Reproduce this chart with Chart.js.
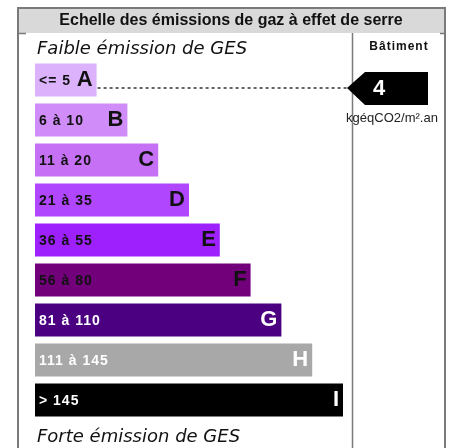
<!DOCTYPE html>
<html>
<head>
  <meta charset="utf-8">
  <title>GES</title>
  <script src="https://cdn.jsdelivr.net/npm/chart.js@4.4.0/dist/chart.umd.min.js"></script>
  <style>
    html, body { margin: 0; padding: 0; background: #fff; }
    #wrap { width: 454px; height: 448px; position: relative; }
  </style>
</head>
<body>
  <div id="wrap"><canvas id="ges"></canvas></div>
  <script>
    // classes and their ranges (kgeqCO2/m2.an)
    var classes = ["A", "B", "C", "D", "E", "F", "G", "H", "I"];
    var ranges = ["<= 5", "6 à 10", "11 à 20", "21 à 35", "36 à 55", "56 à 80", "81 à 110", "111 à 145", "> 145"];
    var barLength = [2, 3, 4, 5, 6, 7, 8, 9, 10];
    var colors = ["#dbb2fb", "#d08cf8", "#c670f6", "#b046fe", "#9d20fd", "#72007a", "#4b0082", "#a8a8a8", "#000000"];
    var textColors = ["#111", "#111", "#111", "#111", "#111", "#111", "#fff", "#fff", "#fff"];
    var buildingValue = 4;
    var buildingClass = 0; // index into classes -> "A"

    var title = "Echelle des émissions de gaz à effet de serre";
    var topNote = "Faible émission de GES";
    var bottomNote = "Forte émission de GES";
    var colTitle = "Bâtiment";
    var unit = "kgéqCO2/m².an";

    var decor = {
      id: 'decor',
      beforeDraw: function(chart) {
        var c = chart.ctx;
        c.save();
        // header band
        c.fillStyle = "#d9d9d9";
        c.fillRect(18, 8, 427, 25);
        c.strokeStyle = "#7a7a7a";
        c.lineWidth = 2;
        c.beginPath();
        c.moveTo(18, 460); c.lineTo(18, 8); c.lineTo(445, 8); c.lineTo(445, 460);
        c.stroke();
        c.lineWidth = 1.5;
        c.beginPath();
        c.moveTo(18, 33.5); c.lineTo(26, 33.5);
        c.moveTo(440, 33.5); c.lineTo(445, 33.5);
        c.moveTo(352.5, 33); c.lineTo(352.5, 460);
        c.stroke();

        c.fillStyle = "#111";
        c.textBaseline = "middle";
        c.textAlign = "center";
        c.font = "bold 16px 'Liberation Sans', Arial, sans-serif";
        c.fillText(title, 231, 21);
        c.letterSpacing = "1px";
        c.font = "bold 12px 'Liberation Sans', Arial, sans-serif";
        c.fillText(colTitle, 399, 47);
        c.letterSpacing = "0px";
        c.textAlign = "left";
        c.font = "oblique 18px 'DejaVu Sans', sans-serif";
        c.fillText(topNote, 37, 49);
        c.fillText(bottomNote, 37, 437);
        c.restore();
      },
      afterDatasetsDraw: function(chart) {
        var c = chart.ctx;
        var bars = chart.getDatasetMeta(0).data;
        c.save();
        c.textBaseline = "middle";
        bars.forEach(function(bar, i) {
          var left = bar.base, right = bar.x, y = bar.y;
          c.fillStyle = textColors[i];
          c.textAlign = "left";
          c.letterSpacing = "1px";
          c.font = "bold 14px 'Liberation Sans', Arial, sans-serif";
          c.fillText(ranges[i], left + 4, y + 1);
          c.letterSpacing = "0px";
          c.textAlign = "right";
          c.font = "bold 22px 'Liberation Sans', Arial, sans-serif";
          c.fillText(classes[i], right - 4, y);
        });

        // pointer for the building
        var b = bars[buildingClass];
        var tipX = 347, y = b.y + 8;
        c.strokeStyle = "#333";
        c.lineWidth = 1.5;
        c.setLineDash([3, 3]);
        c.beginPath();
        c.moveTo(b.x + 1, y); c.lineTo(tipX, y);
        c.stroke();
        c.setLineDash([]);
        c.fillStyle = "#000";
        c.beginPath();
        c.moveTo(tipX, y);
        c.lineTo(365, y - 16);
        c.lineTo(428, y - 16);
        c.lineTo(428, y + 17);
        c.lineTo(365, y + 17);
        c.closePath();
        c.fill();
        c.fillStyle = "#fff";
        c.textAlign = "center";
        c.font = "bold 22px 'Liberation Sans', Arial, sans-serif";
        c.fillText(String(buildingValue), 379, y + 1);
        c.fillStyle = "#222";
        c.font = "13px 'Liberation Sans', Arial, sans-serif";
        c.fillText(unit, 392, y + 30);
        c.restore();
      }
    };

    var chart = new Chart(document.getElementById('ges'), {
      type: 'bar',
      data: {
        labels: classes,
        datasets: [{
          data: barLength,
          backgroundColor: colors,
          borderWidth: 0,
          categoryPercentage: 1,
          barPercentage: 0.82
        }]
      },
      options: {
        indexAxis: 'y',
        responsive: true,
        maintainAspectRatio: false,
        animation: false,
        layout: { padding: { left: 35, right: 111, top: 60, bottom: 28 } },
        plugins: { legend: { display: false }, tooltip: { enabled: false } },
        scales: {
          x: { display: false, min: 0, max: 10 },
          y: { display: false }
        }
      },
      plugins: [decor]
    });
  </script>
</body>
</html>
